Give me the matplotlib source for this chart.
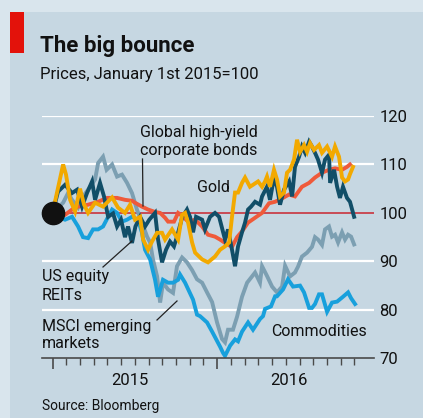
import matplotlib
matplotlib.use("Agg")
import matplotlib.pyplot as plt
from matplotlib.patches import Rectangle
from matplotlib.lines import Line2D

# ---- data (months since Jan 1st 2015, index Jan 1st 2015 = 100) ----
gold_m = [0, 0.77, 0.98, 1.28, 1.64, 2.00, 2.30, 2.59, 3.10, 3.68, 4.34, 4.77, 5.28, 5.65, 6.01,
          6.38, 6.60, 6.96, 7.25, 7.62, 7.98, 8.20, 8.71, 9.15, 9.44, 9.66, 9.88, 10.17, 10.39,
          10.90, 11.33, 11.84, 12.21, 12.57, 12.87, 13.08, 13.30, 13.52, 13.81, 14.03, 14.39,
          14.61, 14.98, 15.27, 15.49, 15.63, 15.85, 16.14, 16.36, 16.58, 16.87, 17.09, 17.31,
          17.60, 17.82, 18.04, 18.33, 18.55, 18.77, 19.06, 19.42, 19.64, 20.01, 20.37, 20.59,
          20.88, 21.10, 21.32, 21.54, 21.68, 21.90]
gold_v = [100, 110, 107.9, 102.7, 100.3, 105.0, 101.7, 100, 102.1, 101.3, 103.2, 101.1, 100, 101.7,
          98.6, 99.2, 94.5, 92.4, 94.1, 95.9, 95.9, 94.5, 96.6, 94.5, 99.6, 100, 98, 93.9, 91.8,
          90.4, 89.8, 91, 92.4, 93.1, 93.9, 99.2, 104.2, 104.2, 106.2, 107.3, 105.4, 105.8, 106.5,
          105.4, 106.5, 107.5, 105.4, 108.9, 106.9, 103.4, 104.2, 108.3, 108.9, 111, 115.1, 112.6,
          114, 112.6, 114.4, 113, 114, 112.4, 113.7, 111.6, 113.7, 111.6, 107.3, 106.5, 106.9,
          108, 109.5]

bonds_m = [0, 0.91, 1.42, 1.86, 2.59, 3.32, 3.97, 4.70, 5.28, 5.80, 6.01, 6.52, 6.96, 7.47, 7.84,
           8.20, 8.42, 8.85, 9.15, 9.44, 9.88, 10.39, 10.90, 11.33, 11.84, 12.21, 12.57, 13.08,
           13.45, 13.81, 14.25, 14.76, 15.27, 15.78, 16.22, 16.73, 17.24, 17.67, 18.18, 18.70,
           19.13, 19.64, 20.15, 20.59, 21.10, 21.46, 21.68]
bonds_v = [100, 99.6, 100.7, 101.3, 101.7, 102.3, 103.1, 103.1, 102.7, 102.5, 102.1, 101.3, 100.7,
           100.2, 100, 99.0, 98.2, 98.2, 100, 99.4, 98.2, 98.6, 97.2, 95.5, 95.1, 94.5, 93.8, 93.0,
           95.0, 96.2, 98.0, 99.0, 100, 102, 102.3, 103, 103.8, 103.4, 105.4, 106.2, 107.3, 108.3,
           108.9, 109.2, 108.9, 109.5, 110]

reits_m = [0, 0.40, 0.91, 1.42, 1.79, 2.15, 2.51, 2.88, 3.10, 3.46, 3.75, 4.05, 4.41, 4.70, 4.99,
           5.28, 5.50, 5.79, 6.04, 6.38, 6.74, 7.05, 7.47, 7.69, 7.98, 8.27, 8.56, 8.85, 9.07,
           9.44, 9.80, 10.02, 10.24, 10.46, 10.90, 11.11, 11.48, 11.84, 12.14, 12.57, 12.79,
           13.08, 13.30, 13.52, 13.81, 14.03, 14.25, 14.47, 14.76, 15.12, 15.27, 15.63, 15.85,
           16.14, 16.36, 16.58, 16.87, 17.24, 17.46, 17.67, 17.97, 18.18, 18.41, 18.70, 18.91,
           19.13, 19.35, 19.64, 19.86, 20.15, 20.23, 20.52, 20.74, 20.95, 21.17, 21.46, 21.68,
           21.98]
reits_v = [100, 104.4, 105.8, 104.1, 104.8, 101.3, 104.1, 106.5, 102.7, 106.2, 103.4, 99.2, 99.9,
           97.2, 98.6, 95, 97.2, 93.8, 97.2, 99.2, 97.2, 98.6, 100, 94.5, 89.8, 92.4, 94.1, 93.1,
           95.1, 99.0, 100.7, 99.2, 96, 99.2, 98.6, 96.6, 99.2, 100, 99.2, 94.5, 96.6, 92.4, 89,
           93.1, 96.0, 98.0, 100.7, 101.3, 102.3, 101.7, 103.4, 105.4, 102.7, 107.3, 105.4, 101.7,
           104.8, 106.5, 103.4, 109.5, 111.6, 113.7, 112.4, 114.7, 113.7, 112.4, 111, 108.3, 111,
           112, 106.2, 108.9, 105.4, 103.1, 105.4, 103.1, 102.3, 99.2]

msci_m = [0, 0.77, 1.13, 1.42, 1.86, 2.22, 2.59, 3.10, 3.32, 3.68, 3.94, 4.34, 4.70, 5.06, 5.43,
          5.79, 6.16, 6.52, 6.89, 7.11, 7.32, 7.62, 7.84, 8.05, 8.42, 8.78, 9.07, 9.44, 9.80,
          10.17, 10.53, 10.90, 11.26, 11.63, 11.99, 12.35, 12.57, 12.79, 13.15, 13.45, 13.81,
          14.18, 14.54, 14.76, 15.12, 15.27, 15.63, 16.00, 16.36, 16.73, 16.95, 17.31, 17.67,
          17.89, 18.18, 18.55, 18.91, 19.13, 19.35, 19.64, 19.86, 20.15, 20.37, 20.59, 20.81,
          21.10, 21.32, 21.54, 21.76, 21.98]
msci_v = [100, 102.1, 104.1, 102.7, 101.1, 103.4, 104.8, 106.9, 110.3, 111.6, 108.9, 110, 107.5,
          107.9, 106.2, 104.1, 100.6, 98, 95.1, 93.9, 90.4, 86.9, 81.5, 85.6, 84.2, 83.5, 89,
          90.8, 89.8, 88.2, 86.3, 85.6, 83.6, 81.6, 77.4, 74, 73.3, 75.9, 75.9, 78.6, 82.7, 85.6,
          86.9, 87.7, 85.6, 89, 87, 84.8, 83.6, 84.8, 89.1, 86.9, 87.7, 88.9, 91, 91.8, 93, 95,
          94.5, 93.4, 96.6, 97.2, 95.1, 95.5, 93.9, 96, 94.5, 95.5, 95.1, 93.5]

comm_m = [0, 0.40, 0.91, 1.42, 1.86, 2.22, 2.59, 2.95, 3.32, 3.68, 4.05, 4.34, 4.70, 5.06, 5.43,
          5.79, 6.23, 6.52, 6.74, 7.11, 7.47, 7.69, 8.05, 8.42, 8.78, 9.15, 9.29, 9.66, 10.24,
          10.53, 10.75, 11.26, 11.63, 12.21, 12.43, 12.57, 12.94, 13.30, 13.52, 13.81, 14.25,
          14.61, 15.12, 15.34, 15.49, 15.92, 16.22, 16.36, 16.80, 17.16, 17.53, 18.04, 18.33,
          18.70, 18.91, 19.13, 19.42, 19.64, 20.01, 20.37, 20.74, 21.17, 21.54, 21.76, 22.05]
comm_v = [100, 99.2, 98.6, 99.2, 97.2, 95, 94.8, 96.6, 96.6, 97.2, 99.2, 100.7, 100.0, 98.2, 98.6,
          99.2, 98.6, 95.9, 92.4, 90.4, 86.2, 82.7, 86.2, 85.6, 85.6, 86.2, 87.3, 85.6, 82.1, 79,
          78.7, 77.4, 75.5, 72.4, 71.1, 70.5, 72.6, 73.9, 73.5, 75.5, 77.4, 75.9, 78.1, 78.7,
          80.2, 80.7, 82.8, 82.8, 84.2, 86.3, 84.8, 85, 83.6, 80.4, 80.4, 81.2, 83.2, 83.2, 79.6,
          81.5, 81.7, 82.7, 83.6, 82.4, 81.2]

y_ticks = [70, 80, 90, 100, 110, 120]
year_labels = ["2015", "2016"]
year_label_pos = [5.6, 17.2]

# ---- figure ----
W, H = 423, 418
fig = plt.figure(figsize=(W / 100, H / 100), dpi=100)
fig.patch.set_facecolor("#d9e5ed")

def fx(px):
    return px / W

def fy(py):
    return 1 - py / H

panel_col = "#c6d7e2"
fig.patches.append(Rectangle((fx(10), 0), 1 - fx(10), fy(12), transform=fig.transFigure,
                             facecolor=panel_col, edgecolor="none", zorder=-3))
fig.patches.append(Rectangle((fx(10), fy(53)), fx(24) - fx(10), fy(12) - fy(53),
                             transform=fig.transFigure, facecolor="#e3120b",
                             edgecolor="none", zorder=-2))

FAM = ["Roboto", "DejaVu Sans"]
fig.text(fx(40), fy(52), "The big bounce", fontsize=16, fontweight="bold", family=FAM,
         color="#111111", va="baseline", ha="left")
fig.text(fx(40), fy(79), "Prices, January 1st 2015=100", fontsize=12, family=FAM,
         color="#111111", va="baseline", ha="left")
fig.text(fx(42), fy(410), "Source: Bloomberg", fontsize=10, family=FAM,
         color="#111111", va="baseline", ha="left")

ax = fig.add_axes([fx(42), fy(358.3), fx(374) - fx(42), fy(116) - fy(358.3)])
ax.set_facecolor("none")
ax.set_zorder(1)
ax.set_xlim(-0.77, 23.43)
ax.set_ylim(70, 120)
for s in ["top", "right", "left"]:
    ax.spines[s].set_visible(False)
ax.spines["bottom"].set_color("#4a4a4a")
ax.spines["bottom"].set_linewidth(1.2)

for t in y_ticks:
    if t == 70:
        continue
    if t == 100:
        ax.axhline(t, color="#c9252f", lw=1.1, zorder=1.5)
    else:
        ax.axhline(t, color="white", lw=1.6, zorder=1)

ax.yaxis.tick_right()
ax.set_yticks(y_ticks)
ax.set_yticklabels([str(t) for t in y_ticks], family=FAM, fontsize=12, color="#111111")
ax.tick_params(axis="y", length=0, pad=4)

ax.set_xticks([0, 12])
ax.set_xticks([m for m in range(1, 23) if m != 12], minor=True)
ax.set_xticklabels([])
ax.tick_params(axis="x", which="major", length=8, width=1.2, color="#4a4a4a", direction="out")
ax.tick_params(axis="x", which="minor", length=5, width=1.0, color="#4a4a4a", direction="out")
for lab, pos in zip(year_labels, year_label_pos):
    ax.text(pos, -0.09, lab, transform=ax.get_xaxis_transform(), ha="center", va="center",
            family=FAM, fontsize=12, color="#111111")

lw = 2.8
ax.plot(msci_m, msci_v, color="#7c9fb2", lw=lw, zorder=2, solid_joinstyle="miter")
ax.plot(comm_m, comm_v, color="#18a0dc", lw=lw, zorder=2.1, solid_joinstyle="miter")
ax.plot(bonds_m, bonds_v, color="#ef5a3a", lw=lw, zorder=2.2, solid_joinstyle="miter")
ax.plot(reits_m, reits_v, color="#114e68", lw=lw, zorder=2.3, solid_joinstyle="miter")
ax.plot(gold_m, gold_v, color="#f2a900", lw=lw, zorder=2.4, solid_joinstyle="miter")
ax.plot([0], [100], "o", color="#111111", ms=16, zorder=5, clip_on=False)

# labels & leader lines
lab_kw = dict(family=FAM, fontsize=11.5, color="#111111", ha="left", va="center",
              transform=fig.transFigure)
fig.text(fx(140), fy(132), "Global high-yield", **lab_kw)
fig.text(fx(140), fy(150), "corporate bonds", **lab_kw)
fig.text(fx(197), fy(187), "Gold", **lab_kw)
fig.text(fx(42), fy(277), "US equity", **lab_kw)
fig.text(fx(42), fy(295), "REITs", **lab_kw)
fig.text(fx(42), fy(326), "MSCI emerging", **lab_kw)
fig.text(fx(42), fy(343), "markets", **lab_kw)
fig.text(fx(271), fy(331), "Commodities", **lab_kw)

for (x0, y0, x1, y1) in [(142.5, 159, 143, 206), (103, 267, 132, 241), (157, 320, 177, 301)]:
    fig.lines.append(Line2D([fx(x0), fx(x1)], [fy(y0), fy(y1)], transform=fig.transFigure,
                            color="#222222", lw=0.9, zorder=6))

fig.savefig("out.png", dpi=100, facecolor=fig.get_facecolor())
